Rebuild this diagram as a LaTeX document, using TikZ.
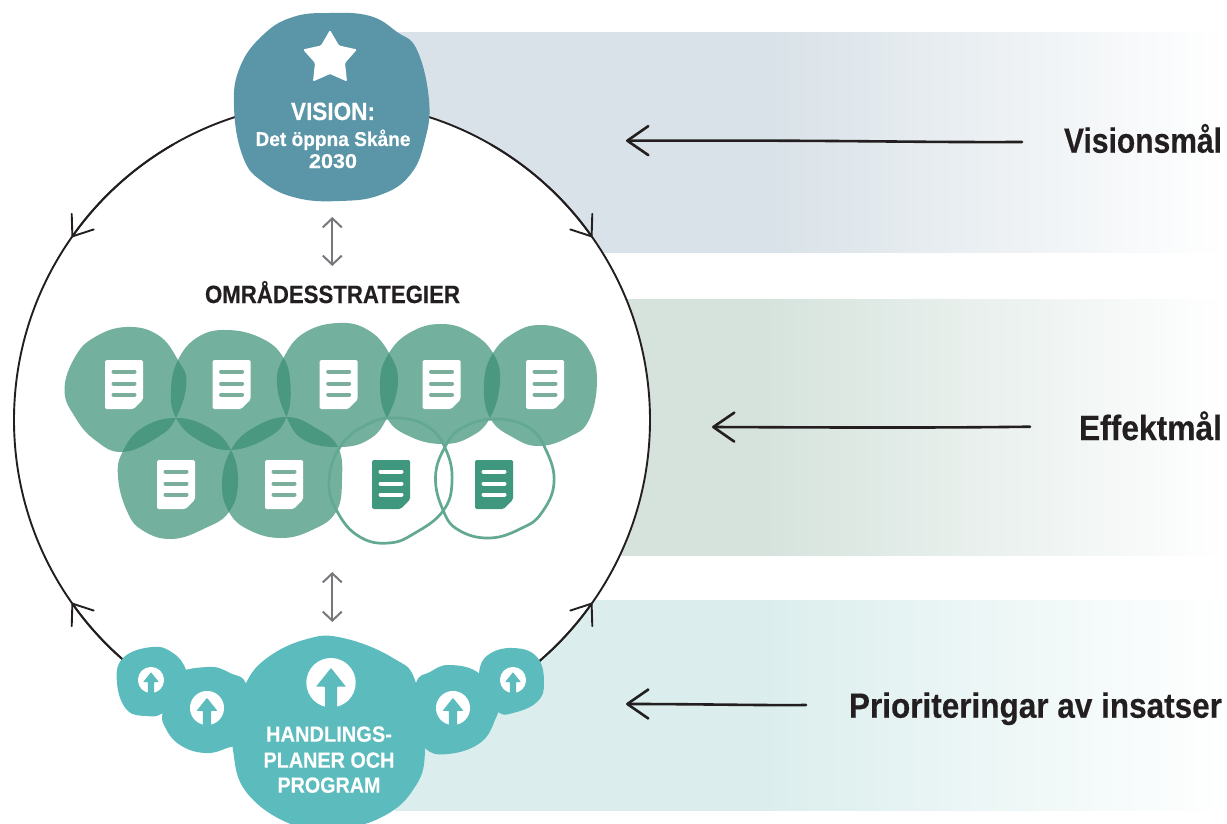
\documentclass[tikz,border=0pt]{standalone}
\usepackage{graphicx}
\usepackage{fontspec}
\setmainfont[BoldFeatures={FakeBold=0.35}]{Liberation Sans}
\usetikzlibrary{arrows.meta}
\definecolor{visionblue}{HTML}{5A96A8}
\definecolor{bandA}{HTML}{D9E2E8}
\definecolor{bandB}{HTML}{D6E3DD}
\definecolor{bandC}{HTML}{DBEEED}
\definecolor{leaf}{HTML}{3A8F75}
\definecolor{leaflight}{HTML}{7BAE9B}
\definecolor{leafdark}{HTML}{3F977D}
\definecolor{leafline}{HTML}{62A892}
\definecolor{teal}{HTML}{5BBBBD}
\definecolor{inkdark}{HTML}{231F20}
\definecolor{arrowgrey}{HTML}{77787B}
\pgfdeclarehorizontalshading{fadeA}{100bp}{color(0bp)=(bandA); color(47.3bp)=(bandA); color(75bp)=(white); color(100bp)=(white)}
\pgfdeclarehorizontalshading{fadeB}{100bp}{color(0bp)=(bandB); color(47.3bp)=(bandB); color(75bp)=(white); color(100bp)=(white)}
\pgfdeclarehorizontalshading{fadeC}{100bp}{color(0bp)=(bandC); color(47.3bp)=(bandC); color(75bp)=(white); color(100bp)=(white)}
\newcommand\fitw[2]{\resizebox{#1pt}{\height}{#2}}
% one line of a stacked label: gap above its baseline, then the text
\newcommand\stackline[2]{\hbox to 220pt{\hss\vrule width 0pt height #1pt depth 0pt\smash{#2}\hss}}
\newcommand\docicon[4]{%
  \fill[#3,rounded corners=1.5pt] (#1-19,#2) -- (#1+19,#2) -- (#1+19,#2+39.5) -- (#1+9.5,#2+49) -- (#1-19,#2+49) -- cycle;
  \draw[#4,line width=4pt,line cap=round] (#1-10.5,#2+11.5) -- (#1+10.5,#2+11.5);
  \draw[#4,line width=4pt,line cap=round] (#1-10.5,#2+23.5) -- (#1+10.5,#2+23.5);
  \draw[#4,line width=4pt,line cap=round] (#1-10.5,#2+34.5) -- (#1+10.5,#2+34.5);
}
\newcommand\upicon[3]{%
  \fill[white] (#1,#2) circle[radius={#3*24.7pt}];
  \fill[teal,rounded corners=0.6pt] (#1,#2-14.7*#3) -- (#1+15*#3,#2+4*#3) -- (#1+6*#3,#2+4*#3) -- (#1+6*#3,#2+25.5*#3) -- (#1-6*#3,#2+25.5*#3) -- (#1-6*#3,#2+4*#3) -- (#1-15*#3,#2+4*#3) -- cycle;
}
\tikzset{
  x=1pt,y=-1pt,
  blobline/.style={smooth cycle,tension=0.72},
  ringline/.style={draw=inkdark,line width=1.9pt},
  ringhead/.style={inkdark,line width=1.9pt,line cap=round,-{Straight Barb[length=18pt,width=27pt,round]}},
  sketch/.style={draw=inkdark,line width=2.6pt,line cap=round,-{Straight Barb[length=21pt,width=29pt,round]}},
  linkarrow/.style={draw=arrowgrey,line width=2pt,{Straight Barb[length=9pt,width=19pt]}-{Straight Barb[length=9pt,width=19pt]}},
  area/.style={fill=leaf,fill opacity=0.7},
  areaopen/.style={draw=leafline,line width=2.7pt},
  lab/.style={inner sep=0pt,outer sep=0pt,font=\bfseries\fontsize{35}{38}\selectfont,text=inkdark},
  whitelab/.style={inner sep=0pt,outer sep=0pt,text=white,anchor=south}
}
\begin{document}
\begin{tikzpicture}
\useasboundingbox (0,0) rectangle (1227,824);
\clip (0,0) rectangle (1227,824);
% bands
\shade[shading=fadeA] (395,33) rectangle (1227,252.5);
\shade[shading=fadeB] (395,299) rectangle (1227,555.5);
\shade[shading=fadeC] (395,600) rectangle (1227,810);
% ring
\node[circle,fill=white,ringline,minimum size=636pt,inner sep=0pt,outer sep=0pt] (ring) at (332,420) {};
\draw[ringhead] (ring.60) arc[start angle=60,delta angle=-24.9,radius=318pt];
\draw[ringhead] (ring.120) arc[start angle=120,delta angle=24.9,radius=318pt];
\draw[ringhead] (ring.-60) arc[start angle=-60,delta angle=24.9,radius=318pt];
\draw[ringhead] (ring.240) arc[start angle=240,delta angle=-24.9,radius=318pt];
% vision blob
\fill[visionblue] plot[blobline] coordinates {(330,13) (370,16) (397,32) (417,50) (429,100) (425,140) (410,175) (380,195) (340,201) (297,198) (263,182) (243,157) (234,107) (240,67) (263,35) (293,17)};
\fill[white,rounded corners=1.2pt] (330,30) -- (339,45.5) -- (357,49.5) -- (345,63) -- (347,81.5) -- (330,74) -- (313,81.5) -- (315,63) -- (303,49.5) -- (321,45.5) -- cycle;
\node[whitelab] (vision) at (333,168) {\vbox{\offinterlineskip\bfseries
  \stackline{18}{\fontsize{25}{26}\selectfont\fitw{84}{VISION:}}
  \stackline{26}{\fontsize{20}{22}\selectfont\fitw{155}{Det öppna Skåne}}
  \stackline{22}{\fontsize{20}{22}\selectfont\fitw{48}{2030}}}};
% link arrows
\coordinate (upA) at (332.3,217);
\coordinate (upB) at (332.3,266);
\coordinate (loA) at (332.3,572);
\coordinate (loB) at (332.3,622);
\draw[linkarrow] (upA) -- (upB);
\draw[linkarrow] (loA) -- (loB);
\node[lab,anchor=base] (omr) at (332.5,303) {\fontsize{25}{26}\selectfont\fitw{255}{OMRÅDESSTRATEGIER}};
% strategy blobs
\fill[area] plot[blobline] coordinates {(126.5,327) (158,335) (178,360) (186.5,383) (176,418) (158,437) (122.5,452) (95,440) (75,417) (64.5,390) (75,357) (95,337)};
\fill[area] plot[blobline] coordinates {(227,330) (261,338) (283,357) (290.5,385) (286.5,417) (269,437) (231,450) (198,440) (176,418) (171,390) (178,360) (198,337)};
\fill[area] plot[blobline] coordinates {(338,323) (368,330) (389,353) (398,382) (387,418) (368,440) (338,447) (304,440) (286.5,417) (277,383) (284,357) (304,333)};
\fill[area] plot[blobline] coordinates {(441,324) (470,332) (493,353) (500,382) (490,418) (470,437) (443,444) (411,437) (387,418) (380,382) (389,353) (411,332)};
\fill[area] plot[blobline] coordinates {(539.5,325) (569,332) (589,350) (597,380) (589,420) (569,437) (539.5,446) (514,438) (490,418) (484,383) (493,353) (514,333)};
\fill[area] plot[blobline] coordinates {(176,418) (209.5,428) (231,450) (238,483) (229,512) (205.5,528) (172,539) (142,530) (126.5,510) (118,477) (122.5,452) (142,428)};
\fill[area] plot[blobline] coordinates {(286.5,417) (316,428) (338,447) (342,480) (336,512) (312,530) (281,538) (249,530) (229,512) (222,483) (231,450) (253,428)};
\draw[areaopen] plot[blobline] coordinates {(395,418) (427,426) (446,450) (452,482) (443,511) (415,533) (389,543) (360,537) (338,513) (329,482) (340,447) (366,425)};
\draw[areaopen] plot[blobline] coordinates {(494,419) (528,427) (546,450) (554,483) (541.5,513) (522,528) (490,538) (458.5,530) (443,510) (435.5,477) (445,447) (462,428)};
% document icons
\docicon{124}{360}{white}{leaflight}
\docicon{231.6}{360}{white}{leaflight}
\docicon{338.7}{360}{white}{leaflight}
\docicon{441.5}{360}{white}{leaflight}
\docicon{545}{360}{white}{leaflight}
\docicon{176}{460}{white}{leaflight}
\docicon{284}{460}{white}{leaflight}
\docicon{391}{460}{leafdark}{white}
\docicon{494}{460}{leafdark}{white}
% action-plan blobs
\fill[teal] plot[blobline] coordinates {(152,647) (173,653) (186,670) (188,693) (163,713) (147,716) (127,710) (117,683) (123,658)};
\fill[teal] plot[blobline] coordinates {(513,648) (537,657) (544,683) (537,702) (513,713) (498,712) (483,693) (479,673) (488,655)};
\fill[teal] plot[blobline] coordinates {(207,667) (230,673) (247,687) (247,737) (227,748) (205,753) (180,745) (165,727) (163,710) (173,677)};
\fill[teal] plot[blobline] coordinates {(450,665) (480,674) (497,703) (495,720) (480,743) (448,754) (425,748) (413,720) (416,683) (430,672)};
\fill[teal] plot[blobline] coordinates {(307,639) (343,638) (393,658) (416,683) (425,750) (413,790) (380,818) (337,828) (293,825) (247,793) (233,750) (235,720) (245,685) (267,658)};
\upicon{331}{682.7}{1}
\upicon{207}{708}{0.69}
\upicon{453}{708}{0.69}
\upicon{151}{680}{0.53}
\upicon{513}{680}{0.53}
\node[whitelab] (plans) at (329,792.7) {\vbox{\offinterlineskip\bfseries\fontsize{22}{25}\selectfont
  \stackline{16}{\fitw{126}{HANDLINGS-}}
  \stackline{26}{\fitw{131}{PLANER OCH}}
  \stackline{25}{\fitw{103}{PROGRAM}}}};
% right labels and arrows
\node[lab,anchor=base east] (goalA) at (1222,152.7) {\fitw{158}{Visionsmål}};
\node[lab,anchor=base east] (goalB) at (1222,440) {\fitw{143}{Effektmål}};
\node[lab,anchor=base east] (goalC) at (1222,717.7) {\fitw{373}{Prioriteringar av insatser}};
\coordinate (fromA) at (1022,142);
\coordinate (toA) at (626,140.7);
\coordinate (fromB) at (1030,426.7);
\coordinate (toB) at (712,427);
\coordinate (fromC) at (806,705);
\coordinate (toC) at (626,704);
\draw[sketch] (fromA) .. controls (900,142.5) and (860,140) .. (toA);
\draw[sketch] (fromB) .. controls (930,428) and (830,427.5) .. (toB);
\draw[sketch] (fromC) .. controls (760,705.5) and (700,704) .. (toC);
\end{tikzpicture}
\end{document}
